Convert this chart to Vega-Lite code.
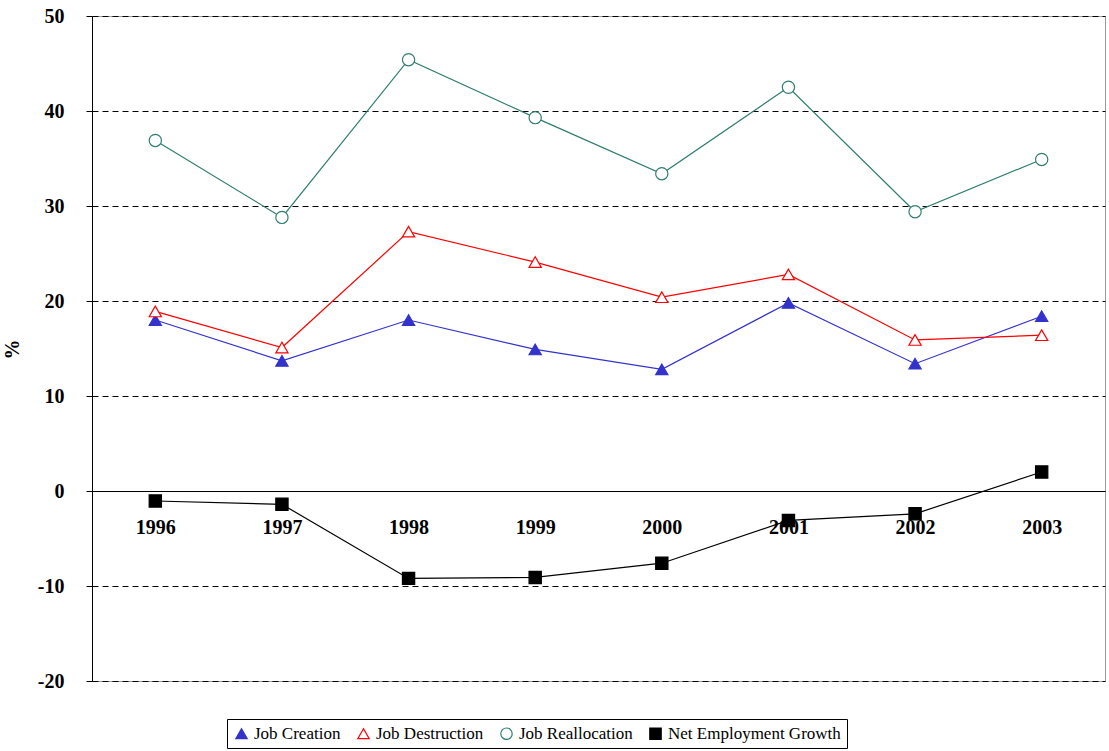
{
  "$schema": "https://vega.github.io/schema/vega-lite/v6.json",
  "autosize": "none",
  "width": 1013,
  "height": 665,
  "padding": {"left": 92, "top": 16, "right": 4, "bottom": 70},
  "config": {
    "font": "Liberation Serif",
    "view": {"stroke": "#999999"},
    "axis": {"labelFont": "Liberation Serif", "titleFont": "Liberation Serif", "labelFontWeight": "bold", "labelFontSize": 20, "labelColor": "black", "domainColor": "black", "tickColor": "black"}
  },
  "data": {"values": [
    {"year": "1996", "series": "Job Creation", "v": 18.0},
    {"year": "1997", "series": "Job Creation", "v": 13.7},
    {"year": "1998", "series": "Job Creation", "v": 18.0},
    {"year": "1999", "series": "Job Creation", "v": 14.9},
    {"year": "2000", "series": "Job Creation", "v": 12.8},
    {"year": "2001", "series": "Job Creation", "v": 19.8},
    {"year": "2002", "series": "Job Creation", "v": 13.4},
    {"year": "2003", "series": "Job Creation", "v": 18.4},
    {"year": "1996", "series": "Job Destruction", "v": 18.9},
    {"year": "1997", "series": "Job Destruction", "v": 15.1},
    {"year": "1998", "series": "Job Destruction", "v": 27.3},
    {"year": "1999", "series": "Job Destruction", "v": 24.1},
    {"year": "2000", "series": "Job Destruction", "v": 20.4},
    {"year": "2001", "series": "Job Destruction", "v": 22.8},
    {"year": "2002", "series": "Job Destruction", "v": 15.9},
    {"year": "2003", "series": "Job Destruction", "v": 16.4},
    {"year": "1996", "series": "Job Reallocation", "v": 36.9},
    {"year": "1997", "series": "Job Reallocation", "v": 28.8},
    {"year": "1998", "series": "Job Reallocation", "v": 45.4},
    {"year": "1999", "series": "Job Reallocation", "v": 39.3},
    {"year": "2000", "series": "Job Reallocation", "v": 33.4},
    {"year": "2001", "series": "Job Reallocation", "v": 42.5},
    {"year": "2002", "series": "Job Reallocation", "v": 29.4},
    {"year": "2003", "series": "Job Reallocation", "v": 34.9},
    {"year": "1996", "series": "Net Employment Growth", "v": -1.05},
    {"year": "1997", "series": "Net Employment Growth", "v": -1.4},
    {"year": "1998", "series": "Net Employment Growth", "v": -9.2},
    {"year": "1999", "series": "Net Employment Growth", "v": -9.1},
    {"year": "2000", "series": "Net Employment Growth", "v": -7.6},
    {"year": "2001", "series": "Net Employment Growth", "v": -3.1},
    {"year": "2002", "series": "Net Employment Growth", "v": -2.4},
    {"year": "2003", "series": "Net Employment Growth", "v": 2.0}
  ]},
  "encoding": {
    "x": {"field": "year", "type": "ordinal", "scale": {"type": "point", "padding": 0.5},
      "axis": {"title": null, "labelAngle": 0, "offset": -190, "ticks": false, "labelPadding": 26, "domain": true}},
    "y": {"field": "v", "type": "quantitative", "scale": {"domain": [-20, 50], "nice": false},
      "axis": {"title": "%", "titleFontSize": 20, "titleFontWeight": "bold", "titleX": -70, "titleY": 333, "values": [-20, -10, 0, 10, 20, 30, 40, 50], "labelExpr": "datum.value < 0 ? '-' + abs(datum.value) : '' + datum.value", "gridDash": [6, 4], "gridColor": "black", "labelPadding": 22, "tickSize": 6}},
    "color": {"field": "series", "type": "nominal",
      "scale": {"domain": ["Job Creation", "Job Destruction", "Job Reallocation", "Net Employment Growth"], "range": ["#3333cc", "#ff0000", "#2e7d6e", "#000000"]},
      "legend": {"title": null, "orient": "none", "direction": "horizontal", "legendX": 135, "legendY": 703, "strokeColor": "black", "padding": 6, "labelFont": "Liberation Serif", "labelFontSize": 17, "labelLimit": 300, "labelColor": "black", "symbolSize": 130, "columnPadding": 14, "symbolStrokeWidth": 1.2}}
  },
  "layer": [
    {"mark": {"type": "line", "strokeWidth": 1.2}, "encoding": {}},
    {"mark": {"type": "point", "size": 150, "opacity": 1, "strokeWidth": 1.2},
      "encoding": {
        "shape": {"field": "series", "type": "nominal", "scale": {"domain": ["Job Creation", "Job Destruction", "Job Reallocation", "Net Employment Growth"], "range": ["triangle-up", "triangle-up", "circle", "square"]}, "legend": null},
        "fill": {"field": "series", "type": "nominal", "scale": {"domain": ["Job Creation", "Job Destruction", "Job Reallocation", "Net Employment Growth"], "range": ["#3333cc", "white", "white", "#000000"]}, "legend": null}
      }}
  ]
}
